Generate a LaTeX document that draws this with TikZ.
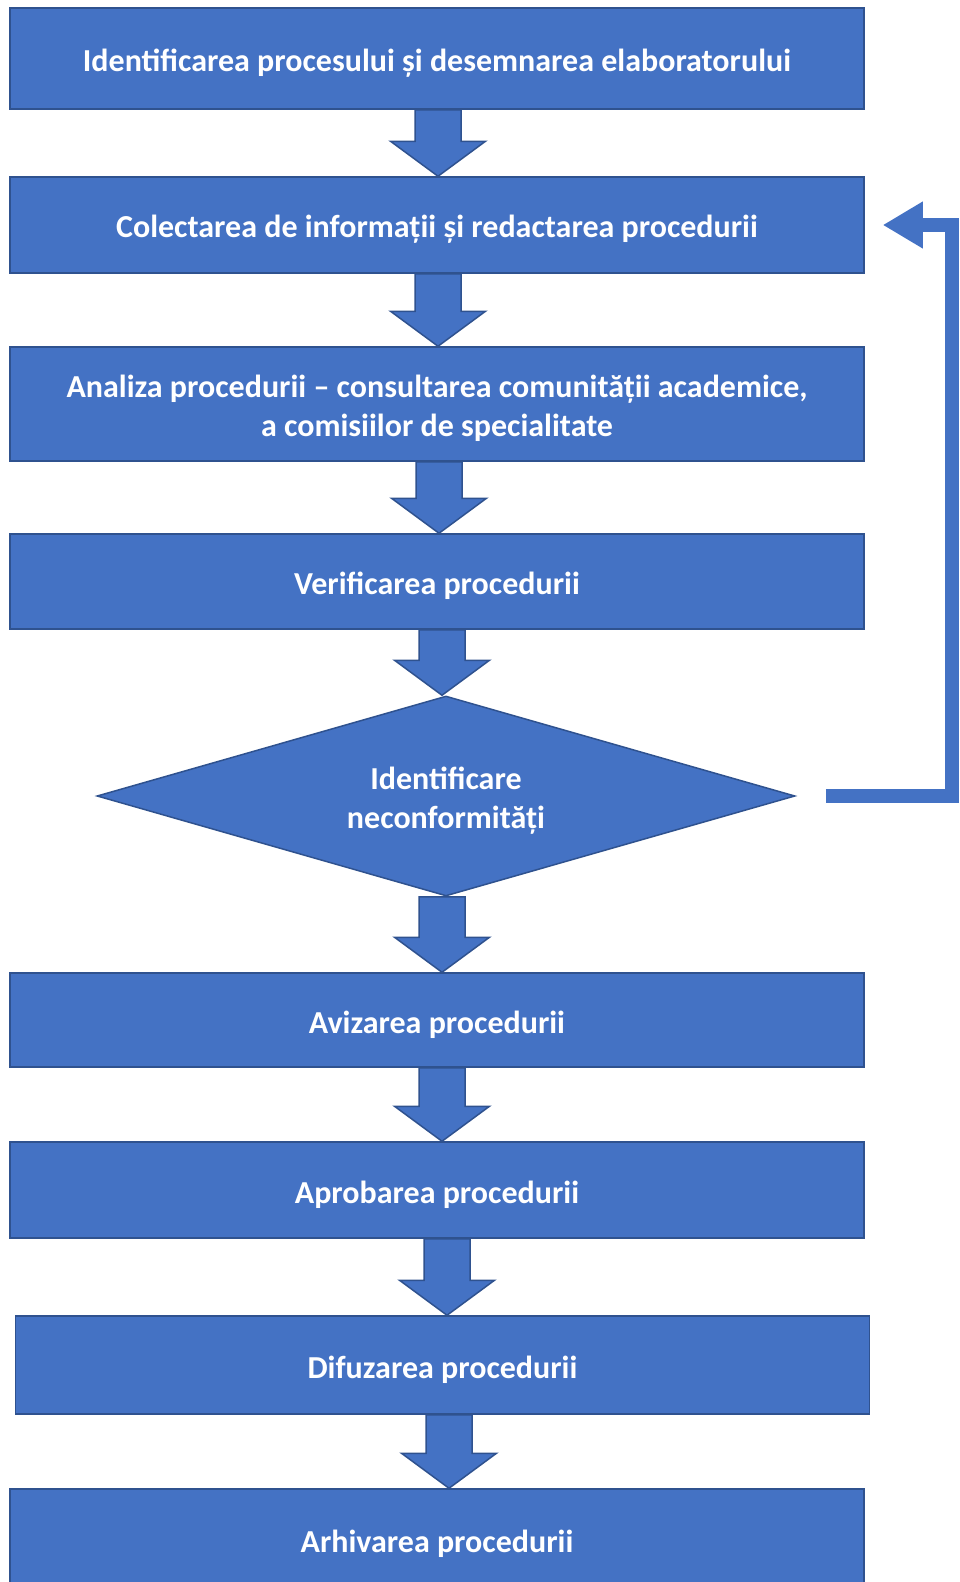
\documentclass[tikz,border=0pt]{standalone}
\usepackage{fontspec}
\setmainfont{Carlito}
\usetikzlibrary{shapes.geometric,arrows.meta,calc}
\definecolor{boxblue}{HTML}{4472C4}
\definecolor{edgeblue}{HTML}{2F528F}
\tikzset{
  txt/.style={text=white, font=\bfseries\fontsize{32}{39}\selectfont, align=center, inner sep=0pt},
  stepbox/.style={rectangle, draw=edgeblue, fill=boxblue, line width=1.5pt, minimum width=854pt, inner sep=0pt},
  decision/.style={diamond, draw=edgeblue, fill=boxblue, line width=1.5pt, minimum width=698pt, minimum height=200pt, aspect=3.5, inner sep=0pt},
  blockarrow/.style={draw=edgeblue, fill=boxblue, line width=1.5pt, line join=miter},
  feedback/.style={draw=boxblue, line width=14pt, line join=miter, -{Triangle[length=40pt,width=44pt]}}
}
\newcommand\blockarrow[3]{%
  \draw[blockarrow] let \p1=(#1.south), \p2=(#2.north) in
    (#3pt-23pt,\y1) -- (#3pt+23pt,\y1) -- (#3pt+23pt,\y2+35pt) -- (#3pt+47.5pt,\y2+35pt)
    -- (#3pt,\y2) -- (#3pt-47.5pt,\y2+35pt) -- (#3pt-23pt,\y2+35pt) -- cycle;}
\newcommand\boxtext[2]{\node[txt, yshift=-4.5pt] (#1t) at (#1) {#2};}
\begin{document}
\begin{tikzpicture}[x=1pt,y=-1pt]
\useasboundingbox (0,0) rectangle (960,1582);
\clip (0,0) rectangle (960,1582);
\node[stepbox, minimum height=101pt] (b1) at (437,58.5) {};
\node[stepbox, minimum height=96pt] (b2) at (437,225) {};
\node[stepbox, minimum height=114pt] (b3) at (437,404) {};
\node[stepbox, minimum height=95pt] (b4) at (437,581.5) {};
\node[decision] (d) at (446,796) {};
\node[stepbox, minimum height=94pt] (b5) at (437,1020) {};
\node[stepbox, minimum height=96pt] (b6) at (437,1190) {};
\node[stepbox, minimum height=98pt] (b7) at (442.5,1365) {};
\node[stepbox, minimum height=101pt] (b8) at (437,1539.5) {};
\boxtext{b1}{Identificarea procesului și desemnarea elaboratorului}
\boxtext{b2}{Colectarea de informații și redactarea procedurii}
\boxtext{b3}{Analiza procedurii – consultarea comunității academice,\\a comisiilor de specialitate}
\boxtext{b4}{Verificarea procedurii}
\boxtext{d}{Identificare\\neconformități}
\boxtext{b5}{Avizarea procedurii}
\boxtext{b6}{Aprobarea procedurii}
\boxtext{b7}{Difuzarea procedurii}
\boxtext{b8}{Arhivarea procedurii}
\blockarrow{b1}{b2}{438}
\blockarrow{b2}{b3}{438}
\blockarrow{b3}{b4}{439}
\blockarrow{b4}{d}{442}
\blockarrow{d}{b5}{442}
\blockarrow{b5}{b6}{442}
\blockarrow{b6}{b7}{447}
\blockarrow{b7}{b8}{449}
\coordinate (fs) at ($(d.east)+(30,0)$);
\coordinate (fe) at ($(b2.east)+(18,0)$);
\coordinate (fx) at (952,0);
\draw[feedback] (fs) -- (fs -| fx) -- (fe -| fx) -- (fe);
\end{tikzpicture}
\end{document}
